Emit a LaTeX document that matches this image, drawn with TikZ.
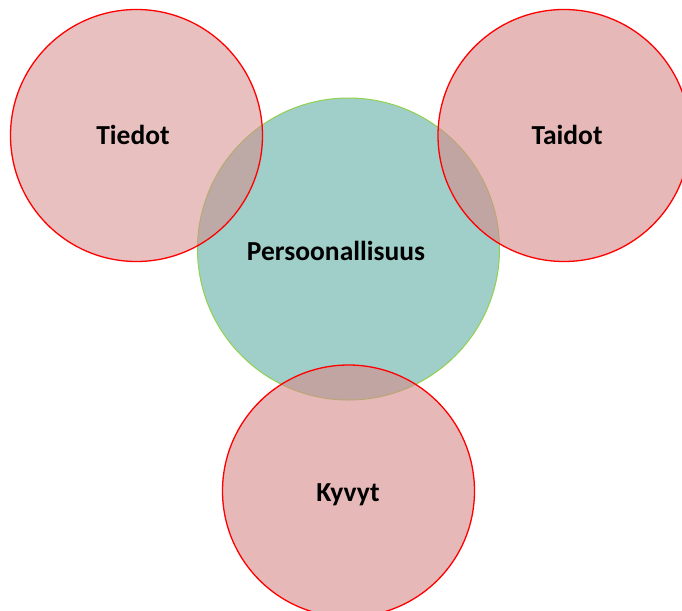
\documentclass[tikz,border=0pt]{standalone}
\usepackage{fontspec}
\setmainfont{Carlito}
\begin{document}
\begin{tikzpicture}[x=1pt,y=-1pt,
  core/.style={circle,draw={rgb,255:red,146;green,208;blue,80},line width=1pt,fill={rgb,255:red,160;green,207;blue,202},inner sep=0pt},
  area/.style={circle,draw=red,line width=1.3pt,fill={rgb,255:red,214;green,140;blue,140},fill opacity=0.62,text opacity=1,inner sep=0pt},
  lbl/.style={font=\fontsize{27.5}{32}\selectfont\bfseries,text=black}]
\useasboundingbox (0,0) rectangle (682,610);
\clip (0,0) rectangle (682,610);
% central circle
\node[core,minimum size=302pt] (pers) at (348.5,249) {};
% three surrounding circles
\node[area,fill opacity=0.55,minimum size=252pt] (tiedot) at (136.5,135.5) {};
\node[area,minimum size=252pt] (taidot) at (564,135.5) {};
\node[area,minimum size=252pt] (kyvyt) at (348.5,491) {};
% labels
\node[lbl] (tl) at (133,135) {Tiedot};
\node[lbl] (tal) at (567,135) {Taidot};
\node[lbl] (pl) at (336,251) {Persoonallisuus};
\node[lbl] (kl) at (348,495) {Kyvyt};
\end{tikzpicture}
\end{document}
